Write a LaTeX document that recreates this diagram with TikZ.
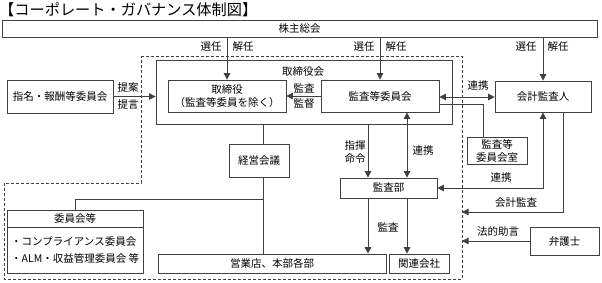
\documentclass[tikz,border=0pt]{standalone}
\usepackage{fontspec}
\setmainfont{Noto Sans CJK JP}
\usetikzlibrary{arrows.meta}
\begin{document}
\begin{tikzpicture}[x=1pt,y=-1pt,
  every node/.style={font=\fontsize{10.5}{13}\selectfont, text=black},
  box/.style={draw=black!75, line width=0.8pt, inner sep=0pt, align=center},
  ln/.style={draw=black!75, line width=0.8pt},
  arr/.style={ln, -{Triangle[width=6.5pt,length=6.5pt]}},
  darr/.style={ln, {Triangle[width=6.5pt,length=6.5pt]}-{Triangle[width=6.5pt,length=6.5pt]}},
  dsh/.style={draw=black!75, line width=0.8pt, dash pattern=on 3pt off 2pt},
  lbl/.style={inner sep=0pt}]
\useasboundingbox (0,0) rectangle (602,282);
% title
\node[lbl, anchor=west, font=\fontsize{15.2}{16}\selectfont] (title) at (-1,10) {【コーポレート・ガバナンス体制図】};
% dashed area
\draw[dsh] (141,56) -- (462,56) -- (462,279) -- (4,279) -- (4,183) -- (141,183) -- cycle;
% boxes
\node[box, minimum width=595, minimum height=17] (kabu) at (299.5,28.5) {株主総会};
\node[box, minimum width=296, minimum height=64] (board) at (304,92) {};
\node[lbl] (boardlbl) at (303,72) {取締役会};
\node[box, fill=white, minimum width=118, minimum height=32] (tori) at (227,96) {取締役\\（監査等委員を除く）};
\node[box, fill=white, minimum width=118, minimum height=32] (kansa) at (380,96) {監査等委員会};
\node[box, minimum width=106, minimum height=33] (shimei) at (60,96.5) {指名・報酬等委員会};
\node[box, minimum width=60, minimum height=33] (keiei) at (259,160.5) {経営会議};
\node[box, minimum width=136, minimum height=63] (iinkai) at (75,241.5) {};
\draw[ln] (7,227) -- (143,227);
\node[lbl] (iinkaih) at (75,218.5) {委員会等};
\node[lbl, anchor=west] (item1) at (11,242) {・コンプライアンス委員会};
\node[lbl, anchor=west] (item2) at (11,258) {・ALM・収益管理委員会\ 等};
\node[box, minimum width=228, minimum height=19] (eigyo) at (272,263.5) {営業店、本部各部};
\node[box, minimum width=60, minimum height=19] (kanren) at (419,263.5) {関連会社};
\node[box, minimum width=97, minimum height=20] (kansabu) at (388.5,188) {監査部};
\node[box, minimum width=96, minimum height=31] (kaikei) at (543,96.5) {会計監査人};
\node[box, minimum width=60, minimum height=27] (shitsu) at (497,150.5) {監査等\\委員会室};
\node[box, minimum width=69, minimum height=28] (bengo) at (564.5,241) {弁護士};
% coordinates on dashed border
\coordinate (d1) at (462,212);
\coordinate (d2) at (462,241);
% 株主総会 arrows
\draw[arr] (tori.north |- kabu.south) -- (tori.north);
\draw[arr] (kansa.north |- kabu.south) -- (kansa.north);
\draw[arr] (kaikei.north |- kabu.south) -- (kaikei.north);
\node[lbl] at (211,47) {選任};
\node[lbl] at (243,47) {解任};
\node[lbl] at (364,47) {選任};
\node[lbl] at (396,47) {解任};
\node[lbl] at (526,47) {選任};
\node[lbl] at (558,47) {解任};
% 指名 -> 取締役会
\draw[arr] (shimei.east) -- (shimei.east -| board.west);
\node[lbl] at (128,88) {提案};
\node[lbl] at (128,105) {提言};
% 監査等委員会 -> 取締役
\draw[arr] (kansa.west) -- (tori.east);
\node[lbl] at (304,88) {監査};
\node[lbl] at (304,104) {監督};
% 取締役会 - 経営会議 - 営業店
\draw[ln] (board.south -| 263,0) -- (keiei.north -| 263,0);
\draw[ln] (keiei.south -| 263,0) -- (eigyo.north -| 263,0);
\draw[ln] (263,199) -- (75,199) -- (iinkai.north);
% 指揮命令, 連携
\draw[arr] (board.south -| 368,0) -- (kansabu.north -| 368,0);
\node[lbl] at (355,146) {指揮};
\node[lbl] at (355,159) {命令};
\draw[darr] (kansa.south -| 407,0) -- (kansabu.north -| 407,0);
\node[lbl] at (423,151) {連携};
% 監査部 -> 営業店, 関連会社
\draw[arr] (kansabu.south -| 368,0) -- (eigyo.north -| 368,0);
\draw[arr] (kansabu.south -| 407,0) -- (kanren.north -| 407,0);
\node[lbl] at (388,227) {監査};
% 監査等委員会 <-> 会計監査人
\draw[darr] (kansa.east |- 0,97) -- (kaikei.west |- 0,97);
\node[lbl] at (478,86) {連携};
% 監査等委員会 - 監査等委員会室
\draw[ln] (kansa.east |- 0,104) -- (483,104) -- (shitsu.north -| 483,0);
% 監査部 <-> 会計監査人
\draw[darr] (kansabu.east) -- (543,188) -- (kaikei.south);
\node[lbl] at (501,178) {連携};
% 会計監査
\draw[arr] (kaikei.south -| 563,0) -- (563,212) -- (d1);
\node[lbl] at (516,203) {会計監査};
% 法的助言
\draw[arr] (bengo.west) -- (d2);
\node[lbl] at (498,231) {法的助言};
\end{tikzpicture}
\end{document}
